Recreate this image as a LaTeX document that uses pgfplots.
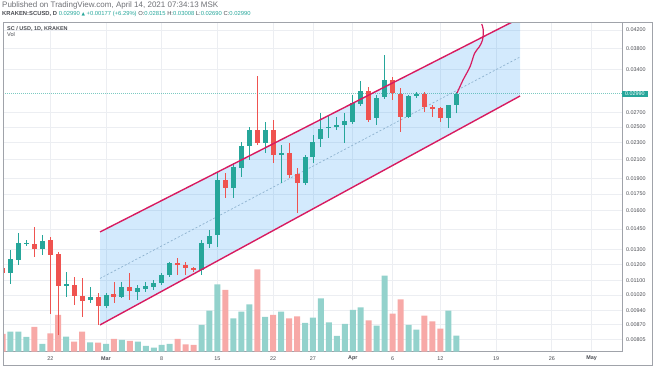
\documentclass[border=0pt]{standalone}
\usepackage{pgfplots}
\pgfplotsset{compat=1.18}
\usepackage{pgfplotstable}
\usepackage{fontspec}
\setmainfont{Liberation Sans}
\newfontfamily\symfont{DejaVu Sans}
\definecolor{upc}{HTML}{26A69A}
\definecolor{dnc}{HTML}{EF5350}
\definecolor{upv}{HTML}{93D2CC}
\definecolor{dnv}{HTML}{F7A9A7}
\definecolor{chline}{HTML}{D81B60}
\definecolor{chfill}{HTML}{2196F3}
\definecolor{midc}{HTML}{8FB3D0}
\definecolor{gridc}{HTML}{ECEEF2}
\definecolor{framec}{HTML}{A0A3AA}
\definecolor{txt}{HTML}{4A4C52}

% up candles: day (0 = 1 Mar 2021), open, high, low, close, volume
\pgfplotstableread{
d O H L C V
-12 0.011471 0.012970 0.010816 0.012361 20
-11 0.012296 0.014203 0.011972 0.013464 20
-10 0.013393 0.013682 0.013251 0.013464 14.7
-8 0.013040 0.014052 0.012628 0.013609 7.7
-5 0.010701 0.011532 0.010091 0.010816 15
-2 0.009930 0.010644 0.009772 0.010091 9.4
0 0.009617 0.010308 0.009515 0.010199 7.7
2 0.010091 0.010932 0.010037 0.010644 11.7
4 0.010364 0.010759 0.009930 0.010588 10
5 0.010531 0.010932 0.010364 0.010701 5.7
6 0.010644 0.011050 0.010475 0.010874 4
7 0.010874 0.011471 0.010759 0.011349 6.7
8 0.011349 0.012165 0.011228 0.012100 7.7
12 0.011656 0.013682 0.011349 0.013464 26.7
13 0.013393 0.014432 0.013110 0.013977 41
14 0.014052 0.019568 0.013180 0.018850 67.4
16 0.018062 0.020642 0.017123 0.020205 33.4
17 0.020098 0.023092 0.019155 0.022604 40
18 0.022604 0.025018 0.020975 0.024621 47.4
20 0.022969 0.025695 0.021774 0.024621 34.7
22 0.021543 0.022725 0.018550 0.021774 40
25 0.018550 0.021543 0.018353 0.021313 28.7
26 0.021313 0.023972 0.020642 0.023092 34
27 0.023466 0.026960 0.022483 0.024752 53.4
28 0.024885 0.026674 0.023591 0.025018 29.4
29 0.025018 0.026391 0.024621 0.025287 15.7
30 0.025287 0.026960 0.022969 0.025833 27.7
31 0.025695 0.029682 0.025422 0.028439 41.7
32 0.028288 0.031986 0.027987 0.030323 44.4
34 0.026250 0.029682 0.025287 0.029210 26
35 0.029366 0.036750 0.029054 0.032157 76
38 0.026391 0.029682 0.026250 0.029523 26.7
39 0.029523 0.030161 0.029210 0.029841 22
43 0.026250 0.028137 0.024885 0.028137 41
44 0.02815 0.03008 0.02690 0.02990 16
}\upT

% down candles
\pgfplotstableread{
d O H L C V
-13 0.011781 0.012494 0.010874 0.011471 17.7
-9 0.013393 0.014665 0.012494 0.013040 24.7
-7 0.013682 0.013902 0.009215 0.012628 18.4
-6 0.012696 0.012832 0.008237 0.010701 36.7
-4 0.010759 0.011228 0.009668 0.010145 10
-3 0.010145 0.011168 0.009068 0.009877 20
-1 0.010091 0.010308 0.008689 0.009617 9
1 0.010254 0.010932 0.009772 0.010091 12.7
3 0.010644 0.011471 0.009930 0.010419 10.7
9 0.012100 0.012428 0.011349 0.011972 12.7
10 0.011972 0.012165 0.011349 0.011781 7.4
11 0.011781 0.011844 0.011532 0.011656 6.7
15 0.018850 0.019568 0.017123 0.018062 61.7
19 0.024621 0.032851 0.022725 0.022969 82.4
21 0.024621 0.025971 0.020642 0.021543 36.7
23 0.021774 0.022969 0.019053 0.019360 33.4
24 0.019464 0.020098 0.015805 0.018550 35.4
33 0.030323 0.030977 0.025695 0.025971 31.4
36 0.032157 0.032676 0.028899 0.030001 38
37 0.029841 0.030812 0.024359 0.026391 52.4
40 0.029841 0.030161 0.027105 0.027838 36
41 0.027838 0.028137 0.026391 0.027542 30.4
42 0.027690 0.027838 0.025695 0.026250 23
}\dnT

\pgfplotsset{
  chartbase/.style={scale only axis, width=619pt, height=329pt,
    at={(3pt,14.3pt)}, anchor=south west, xmin=-12.94, xmax=64.82},
}

\begin{document}
\begin{tikzpicture}[x=1pt,y=1pt]
\useasboundingbox (0,0) rectangle (654,366);

% background grid + ticks
\begin{axis}[chartbase, ymode=log, ymin=0.0075318, ymax=0.04367,
  axis line style={draw=framec, line width=0.6pt},
  xmajorgrids, ymajorgrids, major grid style={draw=gridc, line width=0.6pt},
  tick style={draw=none}, minor ytick={},
  ytick={0.042,0.038,0.034,0.027,0.025,0.023,0.021,0.019,0.0175,0.016,0.0145,0.013,0.012,0.011,0.0102,0.0094,0.0087,0.00805},
  yticklabels={0.04200,0.03800,0.03400,0.02700,0.02500,0.02300,0.02100,0.01900,0.01750,0.01600,0.01450,0.01300,0.01200,0.01100,0.01020,0.00940,0.00870,0.00805},
  yticklabel pos=right,
  yticklabel style={anchor=west, inner sep=0pt, xshift=4pt, font=\fontsize{5.4}{6}\selectfont, text=txt},
  xtick={-7,0,7,14,21,26,31,36,42,49,56,61},
  xticklabels={22,\textbf{Mar},8,15,22,27,\textbf{Apr},6,12,19,26,\textbf{May}},
  xticklabel style={anchor=center, inner sep=0pt, yshift=-6.6pt, font=\fontsize{5.4}{6}\selectfont, text=txt},
]
\end{axis}

% volume
\begin{axis}[chartbase, ymin=0, ymax=329, hide axis]
\addplot[ybar, bar width=6pt, bar shift=0pt, fill=upv, draw=none] table[x=d, y=V] {\upT};
\addplot[ybar, bar width=6pt, bar shift=0pt, fill=dnv, draw=none] table[x=d, y=V] {\dnT};
\end{axis}

% price: channel, candles, drawing
\begin{axis}[chartbase, ymode=log, ymin=0.0075318, ymax=0.04367, hide axis]
\addplot[fill=chfill, fill opacity=0.2, draw=none] coordinates {(-0.754,0.008689) (52.01,0.029523) (52.01,0.04478) (-0.754,0.014279)} -- cycle;
\addplot[midc, line width=0.7pt, dash pattern=on 2pt off 2pt] coordinates {(-0.754,0.011139) (52.01,0.03636)};
\addplot[upc, line width=0.5pt, dash pattern=on 1pt off 1pt, opacity=0.6] coordinates {(-12.94,0.0299) (64.82,0.0299)};
% wicks
\addplot[draw=none, mark=none, error bars/.cd, y dir=plus, y explicit, error mark=none,
  error bar style={draw=upc, line width=0.9pt}]
  table[x=d, y=L, y error plus expr=\thisrow{H}-\thisrow{L}] {\upT};
\addplot[draw=none, mark=none, error bars/.cd, y dir=plus, y explicit, error mark=none,
  error bar style={draw=dnc, line width=0.9pt}]
  table[x=d, y=L, y error plus expr=\thisrow{H}-\thisrow{L}] {\dnT};
% bodies
\addplot[draw=none, mark=none, error bars/.cd, y dir=plus, y explicit, error mark=none,
  error bar style={draw=upc, line width=5pt}]
  table[x=d, y=O, y error plus expr=\thisrow{C}-\thisrow{O}] {\upT};
\addplot[draw=none, mark=none, error bars/.cd, y dir=plus, y explicit, error mark=none,
  error bar style={draw=dnc, line width=5pt}]
  table[x=d, y=C, y error plus expr=\thisrow{O}-\thisrow{C}] {\dnT};
% channel borders
\addplot[chline, line width=1.4pt] coordinates {(-0.754,0.014279) (52.01,0.04478)};
\addplot[chline, line width=1.4pt] coordinates {(-0.754,0.008689) (52.01,0.029523)};
% projected path
\addplot[chline, line width=1.2pt, smooth] coordinates {(44.1,0.0300) (44.85,0.032157) (45.73,0.034524) (46.3,0.037086) (46.9,0.038417) (47.3,0.039816) (47.4,0.042) (47.2,0.04337)};
\end{axis}

% frame
\draw[framec, line width=0.6pt] (3,1) rectangle (652,343.3);

% price label
\node[fill=upc, text=white, font=\fontsize{5.4}{6}\selectfont, inner xsep=3pt, inner ysep=1.2pt, anchor=west] at (622,272) {0.02990};

% header
\node[anchor=west, inner sep=0pt, font=\fontsize{8}{9}\selectfont, text=txt!80] at (2,361) {Published on TradingView.com, April 14, 2021 07:34:13 MSK};
\node[anchor=west, inner sep=0pt, font=\fontsize{5.85}{7}\selectfont, text=txt] at (2,351.7)
  {\textbf{KRAKEN:SCUSD, D} \textcolor{upc}{0.02990 {\symfont\fontsize{4.5}{5}\selectfont ▲} +0.00177 (+6.29\%)} O:\textcolor{upc}{0.02815} H:\textcolor{upc}{0.03008} L:\textcolor{upc}{0.02690} C:\textcolor{upc}{0.02990}};
\node[anchor=west, inner sep=0pt, font=\fontsize{5.5}{7}\selectfont\bfseries, text=txt] at (7,337) {SC / USD, 1D, KRAKEN};
\node[anchor=west, inner sep=0pt, font=\fontsize{5.6}{7}\selectfont, text=txt] at (7,331.5) {Vol};
\end{tikzpicture}
\end{document}
